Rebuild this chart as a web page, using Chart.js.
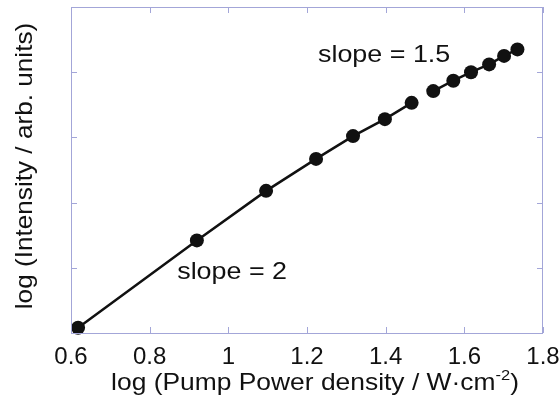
<!DOCTYPE html>
<html>
<head>
<meta charset="utf-8">
<script src="https://cdn.jsdelivr.net/npm/chart.js@4/dist/chart.umd.min.js"></script>
<style>
  html, body { margin: 0; padding: 0; background: #fff; }
  #wrap { width: 560px; height: 403px; }
</style>
</head>
<body>
<div id="wrap"><canvas id="chart"></canvas></div>
<script>
// log pump power density (x) and log intensity (y)
const lowPower = [0.618, 0.920, 1.096, 1.223, 1.317, 1.398, 1.466];
const lowIntensity = [0.08, 1.42, 2.18, 2.67, 3.02, 3.28, 3.53];
const highPower = [1.521, 1.572, 1.617, 1.663, 1.701, 1.735];
const highIntensity = [3.71, 3.87, 4.00, 4.12, 4.25, 4.35];

const xTicks = [0.6, 0.8, 1.0, 1.2, 1.4, 1.6, 1.8];
const yTicks = [0, 1, 2, 3, 4, 5];

const slopeTexts = ["slope = 2", "slope = 1.5"];
const slopeAtX = [0.870, 1.228];
const slopeAtY = [0.83, 4.16];

const xTitle = "log (Pump Power density / W·cm";
const xTitleSup = "-2";
const yTitle = "log (Intensity / arb. units)";

const FONT = "'Liberation Sans', Arial, Helvetica, sans-serif";
const FRAME = "#a3a6d8";

const toPoints = (xs, ys) => xs.map((x, i) => ({ x: x, y: ys[i] }));

// draws text stretched along its own direction
function stretchText(ctx, text, x, y, sx) {
    ctx.save();
    ctx.translate(x, y);
    ctx.scale(sx, 1);
    ctx.fillText(text, 0, 0);
    ctx.restore();
}

const framePlugin = {
    id: "frame",
    afterDatasetsDraw(chart) {
        const { ctx, chartArea: a, scales } = chart;
        ctx.save();
        ctx.strokeStyle = FRAME;
        ctx.lineWidth = 1;
        ctx.strokeRect(a.left + 0.5, a.top + 0.5, a.right - a.left - 1, a.bottom - a.top);
        ctx.beginPath();
        xTicks.forEach(v => {
            const px = Math.round(scales.x.getPixelForValue(v)) + 0.5;
            ctx.moveTo(px, a.bottom); ctx.lineTo(px, a.bottom - 6);
            ctx.moveTo(px, a.top); ctx.lineTo(px, a.top + 6);
        });
        yTicks.forEach(v => {
            const py = Math.round(scales.y.getPixelForValue(v)) + 0.5;
            ctx.moveTo(a.left, py); ctx.lineTo(a.left + 6, py);
            ctx.moveTo(a.right, py); ctx.lineTo(a.right - 6, py);
        });
        ctx.stroke();
        ctx.restore();
    },
    afterDraw(chart) {
        const { ctx, chartArea: a, scales } = chart;
        ctx.save();
        ctx.fillStyle = "#111";
        ctx.textBaseline = "alphabetic";
        ctx.textAlign = "left";
        ctx.font = "24px " + FONT;

        // slope labels
        slopeTexts.forEach((t, i) => {
            stretchText(ctx, t, scales.x.getPixelForValue(slopeAtX[i]), scales.y.getPixelForValue(slopeAtY[i]), 1.12);
        });

        // x title with superscript
        const sx = 1.1;
        const w1 = ctx.measureText(xTitle).width * sx;
        ctx.font = "15px " + FONT;
        const w2 = ctx.measureText(xTitleSup).width * sx;
        ctx.font = "24px " + FONT;
        const w3 = ctx.measureText(")").width * sx;
        let x0 = (a.left + a.right) / 2 + 8 - (w1 + w2 + w3) / 2;
        const base = 390;
        stretchText(ctx, xTitle, x0, base, sx);
        ctx.font = "15px " + FONT;
        stretchText(ctx, xTitleSup, x0 + w1, base - 10, sx);
        ctx.font = "24px " + FONT;
        stretchText(ctx, ")", x0 + w1 + w2, base, sx);

        // y title
        ctx.translate(32, (a.top + a.bottom) / 2 - 4);
        ctx.rotate(-Math.PI / 2);
        ctx.textAlign = "center";
        ctx.scale(1.09, 1);
        ctx.fillText(yTitle, 0, 0);
        ctx.restore();
    }
};

new Chart(document.getElementById("chart").getContext("2d"), {
    type: "line",
    data: {
        datasets: [{
            data: toPoints(lowPower, lowIntensity),
            borderColor: "#111",
            backgroundColor: "#111",
            borderWidth: 2.5,
            pointRadius: 7,
            pointBorderWidth: 0,
            pointBackgroundColor: "#111",
            tension: 0,
            clip: false
        }, {
            data: toPoints(highPower, highIntensity),
            borderColor: "#111",
            backgroundColor: "#111",
            borderWidth: 2.5,
            pointRadius: 7,
            pointBorderWidth: 0,
            pointBackgroundColor: "#111",
            tension: 0,
            clip: false
        }]
    },
    options: {
        responsive: true,
        maintainAspectRatio: false,
        animation: false,
        layout: {
            padding: { top: 3, right: 17, left: 0, bottom: 0 }
        },
        plugins: {
            legend: { display: false },
            tooltip: { enabled: false }
        },
        scales: {
            x: {
                type: "linear",
                min: 0.6,
                max: 1.8,
                afterFit: s => { s.height = 70; s.paddingLeft = 0; s.paddingRight = 0; },
                afterBuildTicks: s => { s.ticks = xTicks.map(v => ({ value: v })); },
                ticks: {
                    padding: 10,
                    color: "#111",
                    font: { size: 24, family: FONT },
                    maxRotation: 0,
                    autoSkip: false,
                    callback: v => String(+v.toFixed(1))
                },
                grid: { display: false, drawTicks: false },
                border: { display: false }
            },
            y: {
                type: "linear",
                min: 0,
                max: 5,
                afterFit: s => { s.width = 71; s.paddingTop = 0; s.paddingBottom = 0; },
                afterBuildTicks: s => { s.ticks = yTicks.map(v => ({ value: v })); },
                ticks: { display: false },
                grid: { display: false, drawTicks: false },
                border: { display: false }
            }
        }
    },
    plugins: [framePlugin]
});
</script>
</body>
</html>
